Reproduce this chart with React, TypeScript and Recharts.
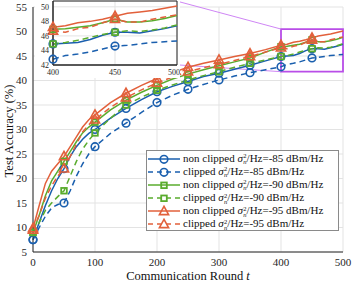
import React from "react";
import {
  LineChart,
  Line,
  XAxis,
  YAxis,
  CartesianGrid,
  ReferenceArea,
  ReferenceLine,
} from "recharts";

const rounds = [
  0, 10, 20, 30, 40, 50, 60, 70, 80, 90, 100, 125, 150, 175, 200, 225, 250,
  275, 300, 325, 350, 375, 400, 410, 420, 430, 440, 450, 460, 470, 480, 490, 500,
];

const nc85 = [
  7.5, 11, 14.5, 17.5, 20, 22, 24.5, 26.5, 28, 29.2, 30, 32.3, 34.3, 36.1, 37.7,
  38.8, 39.8, 40.8, 41.5, 42.3, 43.1, 44.0, 44.9, 45.0, 45.1, 45.5, 46.1, 46.5,
  46.5, 46.4, 46.7, 47.0, 47.4,
];
const c85 = [
  7.5, 10, 12.3, 14, 14.7, 15, 17.5, 20.5, 23, 25, 26.5, 29.2, 31.3, 33.5, 35.5,
  37.0, 38.2, 39.2, 40.1, 40.9, 41.6, 42.2, 42.8, 43.3, 43.5, 43.8, 44.2, 44.6,
  44.7, 44.9, 45.1, 45.2, 45.3,
];
const nc90 = [
  9, 12.5, 16.5, 19.5, 21.5, 23.5, 25.5, 27.5, 29.3, 30.5, 31.5, 34.0, 36.0,
  37.6, 39.0, 40.3, 41.3, 42.2, 43.0, 43.8, 44.6, 45.8, 46.9, 47.0, 47.2, 47.4,
  47.8, 48.3, 47.9, 47.9, 48.1, 48.4, 48.8,
];
const c90 = [
  9, 11, 13.5, 15, 16.3, 17.5, 20.5, 23.5, 26, 27.8, 29.3, 32.3, 35.0, 36.6,
  38.0, 39.1, 40.1, 41.0, 41.8, 42.7, 43.5, 44.2, 44.9, 45.1, 45.4, 45.8, 46.2,
  46.5, 46.7, 46.6, 46.8, 47.1, 47.5,
];
const nc95 = [
  9.8, 14.5, 19, 21.5, 23, 24.5, 26.5, 28.5, 30.5, 32, 33, 35.5, 37.4, 39.0,
  40.4, 41.6, 42.7, 43.5, 44.2, 44.9, 45.5, 46.3, 47.2, 47.4, 47.8, 48.0, 48.3,
  48.7, 49.1, 49.3, 49.5, 49.8, 50.1,
];
const c95 = [
  9.5, 12.5, 16, 18.5, 20.5, 22, 24.5, 27, 29.5, 31, 32, 34.5, 36.5, 38.1, 39.5,
  40.7, 41.8, 42.6, 43.3, 44.1, 44.9, 45.8, 46.7, 46.5, 47.0, 47.2, 47.8, 48.3,
  47.9, 47.9, 48.3, 48.6, 48.9,
];

const xTicks = [0, 100, 200, 300, 400, 500];
const yTicks = [5, 10, 15, 20, 25, 30, 35, 40, 45, 50, 55];
const insetXTicks = [400, 450, 500];
const insetYTicks = [42, 44, 46, 48, 50];

const BLUE = "#1a5fae";
const GREEN = "#5aac2e";
const RED = "#e2603b";
const PURPLE = "#b94ee8";
const FONT = "'Liberation Serif', 'DejaVu Serif', serif";

type Shape = "circle" | "square" | "triangle";

const series = [
  { key: "nc85", values: nc85, clip: "non clipped", level: "-85", color: BLUE, dashed: false, shape: "circle" as Shape },
  { key: "c85", values: c85, clip: "clipped", level: "-85", color: BLUE, dashed: true, shape: "circle" as Shape },
  { key: "nc90", values: nc90, clip: "non clipped", level: "-90", color: GREEN, dashed: false, shape: "square" as Shape },
  { key: "c90", values: c90, clip: "clipped", level: "-90", color: GREEN, dashed: true, shape: "square" as Shape },
  { key: "nc95", values: nc95, clip: "non clipped", level: "-95", color: RED, dashed: false, shape: "triangle" as Shape },
  { key: "c95", values: c95, clip: "clipped", level: "-95", color: RED, dashed: true, shape: "triangle" as Shape },
];

const table = rounds.map((t, i) => {
  const row: Record<string, number> = { t };
  series.forEach((s) => (row[s.key] = s.values[i]));
  return row;
});
const insetTable = table.filter((d) => d.t >= 400);

const Marker = ({ shape, color, cx, cy }: { shape: Shape; color: string; cx: number; cy: number }) => {
  if (shape === "circle")
    return <circle cx={cx} cy={cy} r={3.8} fill="none" stroke={color} strokeWidth={1.6} strokeDasharray="none" />;
  if (shape === "square")
    return <rect x={cx - 2.8} y={cy - 2.8} width={5.6} height={5.6} fill="none" stroke={color} strokeWidth={1.8} strokeDasharray="none" />;
  return (
    <polygon
      points={`${cx},${cy - 5} ${cx - 4.6},${cy + 3.3} ${cx + 4.6},${cy + 3.3}`}
      fill="none"
      stroke={color}
      strokeWidth={1.6}
      strokeDasharray="none"
    />
  );
};

const makeDot = (shape: Shape, color: string) => (props: any) => {
  const { cx, cy, payload, index } = props;
  if (cx == null || cy == null || payload.t % 50 !== 0 || payload.t >= 500) return <g key={index} />;
  return (
    <g key={index}>
      <Marker shape={shape} color={color} cx={cx} cy={cy} />
    </g>
  );
};

const Sigma = () => (
  <span>
    <i>σ</i>
    <span style={{ display: "inline-flex", flexDirection: "column", fontSize: 6.5, lineHeight: "6px", verticalAlign: "middle", marginLeft: 0.5 }}>
      <span>2</span>
      <i>n</i>
    </span>
    /Hz
  </span>
);

const Legend = () => (
  <div
    style={{
      position: "absolute",
      left: 146,
      top: 150,
      width: 193,
      height: 81,
      border: "1px solid #8a8a8a",
      background: "#fff",
      fontFamily: FONT,
      fontSize: 11,
      color: "#111",
      paddingTop: 1,
      boxSizing: "border-box",
    }}
  >
    {series.map((s) => (
      <div key={s.key} style={{ display: "flex", alignItems: "center", height: 13.1, whiteSpace: "nowrap" }}>
        <svg width={36} height={12} style={{ flex: "none" }}>
          <line x1={1} y1={6} x2={33} y2={6} stroke={s.color} strokeWidth={1.5} strokeDasharray={s.dashed ? "5 4" : undefined} />
          <Marker shape={s.shape} color={s.color} cx={17} cy={6.3} />
        </svg>
        <span>
          {s.clip} <Sigma />=
          {s.level} dBm/Hz
        </span>
      </div>
    ))}
  </div>
);

const renderLines = () =>
  series.map((s) => (
    <Line
      key={s.key}
      type="linear"
      dataKey={s.key}
      stroke={s.color}
      strokeWidth={1.5}
      strokeDasharray={s.dashed ? "6 4" : undefined}
      dot={makeDot(s.shape, s.color)}
      activeDot={false}
      isAnimationActive={false}
    />
  ));

const tickStyle = { fontSize: 11, fill: "#262626", fontFamily: FONT };
const insetTickStyle = { fontSize: 8, fill: "#262626", fontFamily: FONT };

export default function App() {
  return (
    <div style={{ position: "absolute", left: 0, top: 0, width: 352, height: 283, background: "#fff" }}>
      <LineChart width={352} height={283} data={table} margin={{ top: 7, right: 9, bottom: 11, left: 8 }}>
        <CartesianGrid stroke="#e3e3e3" />
        <XAxis
          type="number"
          dataKey="t"
          domain={[0, 500]}
          ticks={xTicks}
          height={20}
          tickLine={false}
          tickSize={4}
          stroke="#262626"
          tick={tickStyle}
        />
        <YAxis
          type="number"
          domain={[5, 55]}
          ticks={yTicks}
          width={25}
          tickLine={false}
          tickSize={4}
          stroke="#262626"
          tick={tickStyle}
        />
        <ReferenceLine
          segment={[{ x: 232, y: 56.2 }, { x: 400, y: 50.5 }]}
          stroke="#cf86f5"
          strokeWidth={1}
          ifOverflow="visible"
        />
        <ReferenceLine
          segment={[{ x: 232, y: 43.2 }, { x: 400, y: 41.8 }]}
          stroke="#cf86f5"
          strokeWidth={1}
          ifOverflow="visible"
        />
        {renderLines()}
        <ReferenceArea
          x1={400}
          x2={500}
          y1={41.8}
          y2={50.5}
          fill="none"
          stroke={PURPLE}
          strokeWidth={1.8}
          ifOverflow="visible"
        />
      </LineChart>

      {/* zoomed inset */}
      <div style={{ position: "absolute", left: 35, top: 0, width: 145, height: 78, background: "#fff" }}>
        <LineChart width={145} height={78} data={insetTable} margin={{ top: 1, right: 3, bottom: 1, left: 4 }}>
          <CartesianGrid stroke="#e3e3e3" />
          <XAxis
            type="number"
            dataKey="t"
            domain={[400, 500]}
            ticks={insetXTicks}
            height={12}
            tickLine={false}
            tickSize={2}
            stroke="#262626"
            tick={insetTickStyle}
          />
          <YAxis
            type="number"
            domain={[42, 50.8]}
            ticks={insetYTicks}
            width={14}
            tickLine={false}
            tickSize={2}
            stroke="#262626"
            tick={insetTickStyle}
          />
          {renderLines()}
          <ReferenceArea x1={400} x2={500} y1={42} y2={50.8} fill="none" stroke="#262626" strokeWidth={1} />
        </LineChart>
      </div>

      <Legend />

      <div
        style={{
          position: "absolute",
          left: 9,
          top: 131,
          transform: "translate(-50%, -50%) rotate(-90deg)",
          fontFamily: FONT,
          fontSize: 12.5,
          color: "#111",
          whiteSpace: "nowrap",
        }}
      >
        Test Accuracy (%)
      </div>
      <div
        style={{
          position: "absolute",
          left: 188,
          top: 276,
          transform: "translate(-50%, -50%)",
          fontFamily: FONT,
          fontSize: 12.5,
          color: "#111",
          whiteSpace: "nowrap",
        }}
      >
        Communication Round <i>t</i>
      </div>
    </div>
  );
}
